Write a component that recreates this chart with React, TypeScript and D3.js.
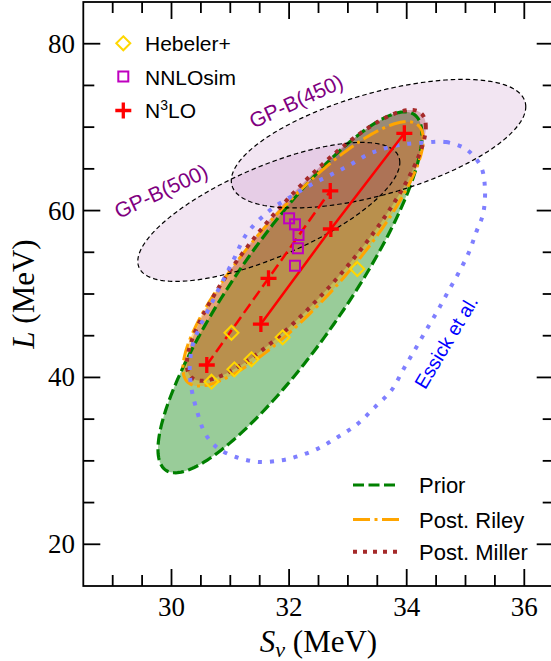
import React from "react";
import * as d3 from "d3";

// ellipses: centre, half extent in Sv and L, correlation  (Prior, Riley, Miller, GP-B(500), GP-B(450))
const ellNames = ["prior", "riley", "miller", "gp500", "gp450"];
const ellSv = [32.015, 32.238, 32.293, 31.655, 33.521];
const ellL = [50.2, 54.81, 55.83, 59.84, 68.02];
const ellSigSv = [2.245, 2.044, 2.032, 2.228, 2.504];
const ellSigL = [21.63, 15.85, 16.24, 8.33, 7.705];
const ellRho = [0.87, 0.865, 0.875, 0.71, 0.575];

// Essick et al. contour
const essickSv = [34.28, 34.67, 35.02, 35.26, 35.33, 35.3, 35.18, 35.06, 34.89, 34.7, 34.52, 34.33, 34.14, 33.95, 33.74,
  33.46, 33.17, 32.83, 32.49, 32.15, 31.87, 31.5, 31.15, 30.8, 30.58, 30.43, 30.34, 30.31, 30.36, 30.48, 30.65, 30.82,
  31.05, 31.28, 31.67, 32.01, 32.35, 32.69, 33.02, 33.34, 33.63, 33.93];
const essickL = [68.14, 68.21, 67.3, 65.3, 62.78, 59.63, 57.37, 55.03, 52.63, 50.23, 47.92, 45.65, 43.33, 41.05, 38.45,
  36.45, 34.46, 32.86, 31.47, 30.55, 30.07, 29.86, 30.34, 31.47, 33.18, 36.06, 38.66, 41.25, 43.85, 46.04, 48.44, 50.83,
  54.03, 57.23, 60.02, 61.58, 63.02, 64.22, 65.42, 66.73, 67.45, 67.93];

const hebelerSv = [31.02, 30.68, 31.07, 31.36, 31.89, 33.16];
const hebelerL = [45.36, 39.49, 40.97, 42.17, 44.81, 53.0];
const nnloSv = [32.0, 32.1, 32.16, 32.15, 32.1];
const nnloL = [59.07, 58.35, 57.07, 55.48, 53.39];
const n3loSolidSv = [31.52, 32.71, 33.96];
const n3loSolidL = [46.4, 57.79, 69.26];
const n3loDashSv = [30.6, 31.65, 32.7];
const n3loDashL = [41.49, 51.88, 62.35];

const xTicks = [30, 32, 34, 36];
const yTicks = [20, 40, 60, 80];

const W = 551, H = 661;
const left = 83.3, right = 553.7, top = 2, bottom = 586;
const x = d3.scaleLinear().domain([28.5, 36.5]).range([left, right]);
const y = d3.scaleLinear().domain([15, 85]).range([bottom, top]);

const serif = "'Liberation Serif', 'DejaVu Serif', serif";
const sans = "'Liberation Sans', Arial, sans-serif";

function ellipse(i: number) {
  const r = Math.sqrt(1 - ellRho[i] * ellRho[i]);
  return d3.range(240).map((k) => {
    const t = (2 * Math.PI * k) / 240;
    return [ellSv[i] + ellSigSv[i] * Math.cos(t), ellL[i] + ellSigL[i] * (ellRho[i] * Math.cos(t) + r * Math.sin(t))] as [number, number];
  });
}

const closed = d3.line<[number, number]>().x((d) => x(d[0])).y((d) => y(d[1])).curve(d3.curveLinearClosed);
const smooth = d3.line<[number, number]>().x((d) => x(d[0])).y((d) => y(d[1])).curve(d3.curveCatmullRomClosed.alpha(0.5));
const open = d3.line<[number, number]>().x((d) => x(d[0])).y((d) => y(d[1]));

const paths: Record<string, string> = {};
ellNames.forEach((n, i) => (paths[n] = closed(ellipse(i)) as string));
const essickPath = smooth(essickSv.map((s, i) => [s, essickL[i]] as [number, number])) as string;

const styles: Record<string, { stroke: string; width: number; dash: string; fill: string; op: number }> = {
  prior: { stroke: "#008000", width: 3.2, dash: "11,4.5", fill: "#008000", op: 0.4 },
  riley: { stroke: "#ffa500", width: 3, dash: "17,4.5,3,4.5", fill: "#ffa500", op: 0.4 },
  miller: { stroke: "#a52a2a", width: 4, dash: "4,6", fill: "#a52a2a", op: 0.3 },
  gp500: { stroke: "#000", width: 1.2, dash: "4.5,3", fill: "#800080", op: 0.1 },
  gp450: { stroke: "#000", width: 1.2, dash: "4.5,3", fill: "#800080", op: 0.1 },
};

const diamond = "M0,-7L7,0L0,7L-7,0Z";
const plus = "M-8,0H8M0,-8V8";

export default function App() {
  const xMinor = d3.range(29, 36.5, 0.5).filter((v) => !xTicks.includes(v));
  const yMinor = d3.range(20, 85, 5).filter((v) => !yTicks.includes(v));
  return (
    <svg width={W} height={H} style={{ position: "absolute", left: 0, top: 0, background: "#fff" }}>
      <defs>
        <clipPath id="plot">
          <rect x={left} y={top} width={right - left} height={bottom - top} />
        </clipPath>
      </defs>
      <g clipPath="url(#plot)">
        {ellNames.map((n) => (
          <path key={"f" + n} d={paths[n]} fill={styles[n].fill} fillOpacity={styles[n].op} stroke="none" />
        ))}
        {ellNames.map((n) => (
          <path key={"s" + n} d={paths[n]} fill="none" stroke={styles[n].stroke} strokeWidth={styles[n].width}
            strokeDasharray={styles[n].dash} />
        ))}
        <path d={essickPath} fill="none" stroke="#7f7fff" strokeWidth={4} strokeDasharray="4,8" />
        <path d={open(n3loSolidSv.map((s, i) => [s, n3loSolidL[i]] as [number, number])) as string} fill="none" stroke="red" strokeWidth={2.5} />
        <path d={open(n3loDashSv.map((s, i) => [s, n3loDashL[i]] as [number, number])) as string} fill="none" stroke="red" strokeWidth={2.5} strokeDasharray="11,5" />
        {hebelerSv.map((s, i) => (
          <path key={"h" + i} d={diamond} transform={`translate(${x(s)},${y(hebelerL[i])})`} fill="none" stroke="#ffd700" strokeWidth={2} />
        ))}
        {nnloSv.map((s, i) => (
          <rect key={"n" + i} x={x(s) - 5} y={y(nnloL[i]) - 5} width={10} height={10} fill="none" stroke="#bf00bf" strokeWidth={2} />
        ))}
        {n3loSolidSv.concat(n3loDashSv).map((s, i) => (
          <path key={"p" + i} d={plus} transform={`translate(${x(s)},${y(n3loSolidL.concat(n3loDashL)[i])})`} stroke="red" strokeWidth={3.3} />
        ))}
      </g>

      {/* labels in the plot */}
      <text transform="translate(296,101) rotate(-24.5)" textAnchor="middle" dominantBaseline="central" fontFamily={sans} fontSize={21} fill="#800080">GP-B(450)</text>
      <text transform="translate(161,191) rotate(-25)" textAnchor="middle" dominantBaseline="central" fontFamily={sans} fontSize={21} fill="#800080">GP-B(500)</text>
      <text transform="translate(446,342) rotate(-59)" textAnchor="middle" dominantBaseline="central" fontFamily={sans} fontSize={19.5} fill="#0000ff">Essick et al.</text>

      {/* frame and ticks */}
      <rect x={left} y={top} width={right - left} height={bottom - top} fill="none" stroke="#000" strokeWidth={1.8} />
      {xTicks.map((v) => (
        <g key={"xt" + v}>
          <line x1={x(v)} x2={x(v)} y1={bottom} y2={bottom - 17} stroke="#000" strokeWidth={1.8} />
          <line x1={x(v)} x2={x(v)} y1={top} y2={top + 17} stroke="#000" strokeWidth={1.8} />
          <text x={x(v)} y={616} textAnchor="middle" fontFamily={serif} fontSize={27}>{v}</text>
        </g>
      ))}
      {xMinor.map((v) => (
        <g key={"xm" + v}>
          <line x1={x(v)} x2={x(v)} y1={bottom} y2={bottom - 11} stroke="#000" strokeWidth={1.8} />
          <line x1={x(v)} x2={x(v)} y1={top} y2={top + 11} stroke="#000" strokeWidth={1.8} />
        </g>
      ))}
      {yTicks.map((v) => (
        <g key={"yt" + v}>
          <line x1={left} x2={left + 17} y1={y(v)} y2={y(v)} stroke="#000" strokeWidth={1.8} />
          <line x1={right} x2={right - 17} y1={y(v)} y2={y(v)} stroke="#000" strokeWidth={1.8} />
          <text x={75} y={y(v) + 9} textAnchor="end" fontFamily={serif} fontSize={27}>{v}</text>
        </g>
      ))}
      {yMinor.map((v) => (
        <g key={"ym" + v}>
          <line x1={left} x2={left + 11} y1={y(v)} y2={y(v)} stroke="#000" strokeWidth={1.8} />
          <line x1={right} x2={right - 11} y1={y(v)} y2={y(v)} stroke="#000" strokeWidth={1.8} />
        </g>
      ))}

      {/* axis titles */}
      <text x={(left + right) / 2} y={652} textAnchor="middle" fontFamily={serif} fontSize={31}>
        <tspan fontStyle="italic">S</tspan>
        <tspan fontStyle="italic" fontSize={22} dy={5}>v</tspan>
        <tspan dy={-5}>{"\u00a0(MeV)"}</tspan>
      </text>
      <text transform={`translate(34,${(top + bottom) / 2}) rotate(-90)`} textAnchor="middle" fontFamily={serif} fontSize={31}>
        <tspan fontStyle="italic">L</tspan>
        <tspan>{"\u00a0(MeV)"}</tspan>
      </text>

      {/* legend top left */}
      <path d={diamond} transform="translate(123.3,43.3)" fill="none" stroke="#ffd700" strokeWidth={2} />
      <text x={145} y={50.5} fontFamily={sans} fontSize={21}>Hebeler+</text>
      <rect x={118.3} y={71.5} width={10} height={10} fill="none" stroke="#bf00bf" strokeWidth={2} />
      <text x={145} y={84.5} fontFamily={sans} fontSize={21}>NNLOsim</text>
      <path d={plus} transform="translate(123.3,110.5)" stroke="red" strokeWidth={3.3} />
      <text x={145} y={118} fontFamily={sans} fontSize={21}>
        N<tspan fontSize={14} dy={-8}>3</tspan><tspan dy={8}>LO</tspan>
      </text>

      {/* legend bottom right */}
      {[["prior", "Prior", 485], ["riley", "Post. Riley", 519.5], ["miller", "Post. Miller", 551.7]].map(([k, label, yy]) => (
        <g key={"lg" + k}>
          <line x1={353} x2={399} y1={yy as number} y2={yy as number} stroke={styles[k as string].stroke}
            strokeWidth={styles[k as string].width} strokeDasharray={styles[k as string].dash} />
          <text x={419} y={(yy as number) + 8} fontFamily={sans} fontSize={22}>{label}</text>
        </g>
      ))}
    </svg>
  );
}
